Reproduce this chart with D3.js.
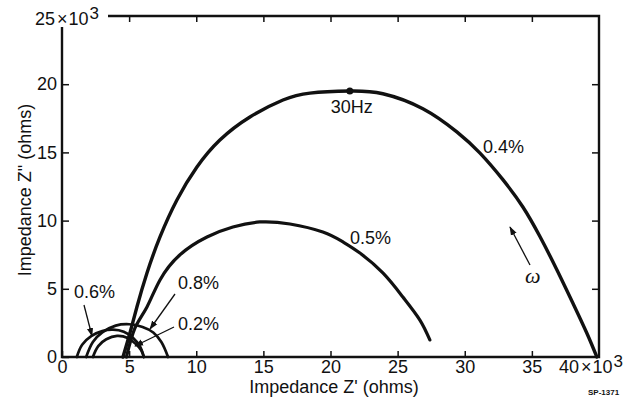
<!DOCTYPE html>
<html>
<head>
<meta charset="utf-8">
<script src="https://cdn.jsdelivr.net/npm/d3@7"></script>
<style>
  html, body { margin: 0; padding: 0; background: #fff; }
  svg { display: block; }
  text { font-family: "Liberation Sans", Arial, sans-serif; fill: #111; }
</style>
</head>
<body>
<script>
// ---- data (Z', Z'' in units of 10^3 ohms) ----
const xTicks = [0, 5, 10, 15, 20, 25, 30, 35];
const yTicks = [0, 5, 10, 15, 20];
const xMaxLabel = "40";
const yMaxLabel = "25";

const curve04 = [[4.54,0],[5.06,1.76],[5.58,3.67],[6.33,6.16],[7.30,8.80],[8.56,11.51],[10.05,13.93],
  [11.76,15.91],[14.0,17.6],[16.46,18.84],[18.47,19.35],[21.44,19.50],[23.9,19.3],[26.88,18.2],
  [29.41,16.5],[31.12,14.96],[32.84,13.0],[34.33,11.0],[35.59,8.85],[36.86,6.4],[38.05,3.96],
  [39.09,1.76],[39.84,0]];
const curve05 = [[4.8,0],[5.44,2.13],[6.33,3.67],[7.30,5.65],[8.79,7.5],[10.80,8.80],[12.73,9.53],
  [14.74,9.90],[16.98,9.75],[19.43,9.16],[20.9,8.45],[22.19,7.62],[23.9,6.16],[25.39,4.40],
  [26.66,2.71],[27.4,1.25]];
const curve06 = [[1.1,0],[1.5,0.9],[2.2,1.55],[3.0,1.9],[3.8,2.0],[4.6,1.85],[5.3,1.4],[5.8,0.8],[6.1,0]];
const curve08 = [[1.8,0],[2.3,1.1],[3.0,1.8],[4.0,2.3],[5.0,2.4],[6.0,2.2],[6.8,1.8],[7.4,1.1],[7.9,0]];
const curve02 = [[2.3,0],[2.7,0.8],[3.3,1.3],[4.1,1.55],[4.9,1.4],[5.5,0.95],[5.9,0.5],[6.1,0]];
const marker30Hz = [21.44, 19.50];

const W = 635, H = 404;
const svg = d3.select("body").append("svg").attr("width", W).attr("height", H);

const x = d3.scaleLinear().domain([0, 40]).range([62, 599]);
const y = d3.scaleLinear().domain([0, 25]).range([357, 16]);

const ink = "#111";

// defs: arrowhead
svg.append("defs").append("marker")
  .attr("id", "ah").attr("viewBox", "0 0 10 10").attr("refX", 9).attr("refY", 5)
  .attr("markerWidth", 9).attr("markerHeight", 9).attr("orient", "auto")
  .attr("markerUnits", "userSpaceOnUse")
  .append("path").attr("d", "M0,1.5 L10,5 L0,8.5 Z").attr("fill", ink);

// frame
const frame = svg.append("g").attr("fill", "none").attr("stroke", ink).attr("stroke-width", 2.4);
frame.append("path").attr("d", `M${x(0)},27 L${x(0)},${y(0)} L${x(40)},${y(0)} L${x(40)},${y(25)} L108,${y(25)}`);

// bottom axis
const gx = svg.append("g").attr("transform", `translate(0,${y(0)})`)
  .call(d3.axisBottom(x).tickValues(xTicks).tickSize(-6).tickPadding(3).tickFormat(d3.format("d")));
gx.select(".domain").remove();
gx.selectAll("line").attr("stroke", ink).attr("stroke-width", 1.5);
gx.selectAll("text").attr("font-size", 18).style("font-family", "Liberation Sans, Arial, sans-serif").attr("fill", ink);

// top ticks
const gt = svg.append("g").attr("transform", `translate(0,${y(25)})`)
  .call(d3.axisTop(x).tickValues(xTicks.slice(1)).tickSize(-6).tickFormat(""));
gt.select(".domain").remove();
gt.selectAll("line").attr("stroke", ink).attr("stroke-width", 1.5);

// left axis
const gy = svg.append("g").attr("transform", `translate(${x(0)},0)`)
  .call(d3.axisLeft(y).tickValues(yTicks).tickSize(-7).tickPadding(5).tickFormat(d3.format("d")));
gy.select(".domain").remove();
gy.selectAll("line").attr("stroke", ink).attr("stroke-width", 1.5);
gy.selectAll("text").attr("font-size", 18).style("font-family", "Liberation Sans, Arial, sans-serif").attr("fill", ink);

// right ticks
const gr = svg.append("g").attr("transform", `translate(${x(40)},0)`)
  .call(d3.axisRight(y).tickValues(yTicks.slice(1)).tickSize(-7).tickFormat(""));
gr.select(".domain").remove();
gr.selectAll("line").attr("stroke", ink).attr("stroke-width", 1.5);

// max labels with ×10^3
function sciLabel(xp, yp, base) {
  const t = svg.append("text").attr("x", xp).attr("y", yp).attr("font-size", 18);
  t.append("tspan").text(base);
  t.append("tspan").attr("dx", 2).text("×");
  t.append("tspan").attr("dx", 1).text("10");
  t.append("tspan").attr("dx", 1).attr("dy", -6).attr("font-size", 17).text("3");
}
sciLabel(35, 25, yMaxLabel);
sciLabel(559, 373, xMaxLabel);

// axis titles
svg.append("text").attr("x", 334).attr("y", 393).attr("text-anchor", "middle")
  .attr("font-size", 18).text("Impedance Z'  (ohms)");
svg.append("text").attr("transform", "translate(31,190) rotate(-90)").attr("text-anchor", "middle")
  .attr("font-size", 18).text("Impedance Z\"  (ohms)");

// curves
const bigLine = d3.line().x(d => x(d[0])).y(d => y(d[1])).curve(d3.curveNatural);
const line = d3.line().x(d => x(d[0])).y(d => y(d[1])).curve(d3.curveCatmullRom.alpha(0.5));
const curves = svg.append("g").attr("fill", "none").attr("stroke", ink).attr("stroke-linecap", "round");
curves.append("path").datum(curve04).attr("d", bigLine).attr("stroke-width", 3.4);
curves.append("path").datum(curve05).attr("d", bigLine).attr("stroke-width", 3.2);
curves.append("path").datum(curve06).attr("d", line).attr("stroke-width", 2.7);
curves.append("path").datum(curve08).attr("d", line).attr("stroke-width", 2.7);
curves.append("path").datum(curve02).attr("d", line).attr("stroke-width", 2.7);

// 30 Hz marker
svg.append("circle").attr("cx", x(marker30Hz[0])).attr("cy", y(marker30Hz[1])).attr("r", 3.5).attr("fill", ink);
svg.append("text").attr("x", x(marker30Hz[0]) + 2).attr("y", y(marker30Hz[1]) + 22)
  .attr("text-anchor", "middle").attr("font-size", 18).text("30Hz");

// curve labels
const lab = svg.append("g").attr("font-size", 18);
lab.append("text").attr("x", 483).attr("y", 153).text("0.4%");
lab.append("text").attr("x", 350).attr("y", 244).text("0.5%");
lab.append("text").attr("x", 74).attr("y", 298).text("0.6%");
lab.append("text").attr("x", 178).attr("y", 289).text("0.8%");
lab.append("text").attr("x", 178).attr("y", 330).text("0.2%");

// pointer arrows
const arrows = svg.append("g").attr("stroke", ink).attr("stroke-width", 1.3).attr("fill", "none");
arrows.append("line").attr("x1", 84).attr("y1", 305).attr("x2", 92).attr("y2", 336).attr("marker-end", "url(#ah)");
arrows.append("line").attr("x1", 175).attr("y1", 294).attr("x2", 150).attr("y2", 329).attr("marker-end", "url(#ah)");
arrows.append("line").attr("x1", 174).attr("y1", 327).attr("x2", 135).attr("y2", 346).attr("marker-end", "url(#ah)");
arrows.append("line").attr("x1", 530).attr("y1", 265).attr("x2", 510).attr("y2", 227).attr("marker-end", "url(#ah)");

// omega
svg.append("text").attr("x", 525).attr("y", 283).attr("font-size", 22)
  .style("font-family", "Liberation Serif, DejaVu Serif, serif").attr("font-style", "italic").text("ω");

// source code
svg.append("text").attr("x", 588).attr("y", 395).attr("font-size", 8).attr("font-weight", "bold").text("SP-1371");
</script>
</body>
</html>
